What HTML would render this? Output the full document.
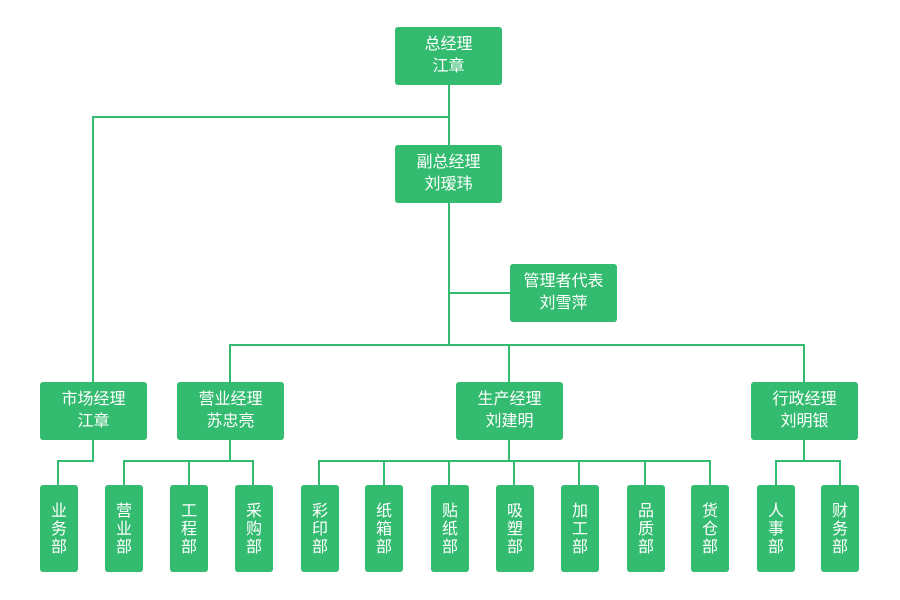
<!DOCTYPE html><html><head><meta charset="utf-8"><style>
body{margin:0;width:900px;height:600px;background:#fff;position:relative;overflow:hidden;font-family:"Liberation Sans","Noto Sans CJK SC",sans-serif}
.b{position:absolute;background:#33bb6f;border-radius:3px;color:#fff;font-size:16px;display:flex;align-items:center;justify-content:center;text-align:center;line-height:22px}
.m{width:107px;height:58px}
.s{width:38px;height:87px;top:485px;line-height:18px;padding-top:2px;box-sizing:border-box}
.l{position:absolute;background:#33bb6f}
</style></head><body>
<div class="l" style="left:448px;top:85px;width:2px;height:261px"></div>
<div class="l" style="left:92px;top:116px;width:358px;height:2px"></div>
<div class="l" style="left:92px;top:116px;width:2px;height:266px"></div>
<div class="l" style="left:448px;top:292px;width:62px;height:2px"></div>
<div class="l" style="left:229px;top:344px;width:576px;height:2px"></div>
<div class="l" style="left:229px;top:344px;width:2px;height:38px"></div>
<div class="l" style="left:508px;top:344px;width:2px;height:38px"></div>
<div class="l" style="left:803px;top:344px;width:2px;height:38px"></div>
<div class="l" style="left:92px;top:440px;width:2px;height:22px"></div>
<div class="l" style="left:57px;top:460px;width:37px;height:2px"></div>
<div class="l" style="left:229px;top:440px;width:2px;height:22px"></div>
<div class="l" style="left:123px;top:460px;width:131px;height:2px"></div>
<div class="l" style="left:508px;top:440px;width:2px;height:22px"></div>
<div class="l" style="left:318px;top:460px;width:393px;height:2px"></div>
<div class="l" style="left:803px;top:440px;width:2px;height:22px"></div>
<div class="l" style="left:775px;top:460px;width:66px;height:2px"></div>
<div class="l" style="left:57px;top:460px;width:2px;height:25px"></div>
<div class="l" style="left:123px;top:460px;width:2px;height:25px"></div>
<div class="l" style="left:188px;top:460px;width:2px;height:25px"></div>
<div class="l" style="left:252px;top:460px;width:2px;height:25px"></div>
<div class="l" style="left:318px;top:460px;width:2px;height:25px"></div>
<div class="l" style="left:383px;top:460px;width:2px;height:25px"></div>
<div class="l" style="left:448px;top:460px;width:2px;height:25px"></div>
<div class="l" style="left:513px;top:460px;width:2px;height:25px"></div>
<div class="l" style="left:578px;top:460px;width:2px;height:25px"></div>
<div class="l" style="left:644px;top:460px;width:2px;height:25px"></div>
<div class="l" style="left:709px;top:460px;width:2px;height:25px"></div>
<div class="l" style="left:775px;top:460px;width:2px;height:25px"></div>
<div class="l" style="left:839px;top:460px;width:2px;height:25px"></div>

<div class="b m" style="left:395px;top:27px">总经理<br>江章</div>
<div class="b m" style="left:395px;top:145px">副总经理<br>刘瑷玮</div>
<div class="b m" style="left:510px;top:264px">管理者代表<br>刘雪萍</div>
<div class="b m" style="left:40px;top:382px">市场经理<br>江章</div>
<div class="b m" style="left:177px;top:382px">营业经理<br>苏忠亮</div>
<div class="b m" style="left:456px;top:382px">生产经理<br>刘建明</div>
<div class="b m" style="left:751px;top:382px">行政经理<br>刘明银</div>

<div class="b s" style="left:40px">业<br>务<br>部</div>
<div class="b s" style="left:105px">营<br>业<br>部</div>
<div class="b s" style="left:170px">工<br>程<br>部</div>
<div class="b s" style="left:235px">采<br>购<br>部</div>
<div class="b s" style="left:301px">彩<br>印<br>部</div>
<div class="b s" style="left:365px">纸<br>箱<br>部</div>
<div class="b s" style="left:431px">贴<br>纸<br>部</div>
<div class="b s" style="left:496px">吸<br>塑<br>部</div>
<div class="b s" style="left:561px">加<br>工<br>部</div>
<div class="b s" style="left:627px">品<br>质<br>部</div>
<div class="b s" style="left:691px">货<br>仓<br>部</div>
<div class="b s" style="left:757px">人<br>事<br>部</div>
<div class="b s" style="left:821px">财<br>务<br>部</div>
</body></html>
